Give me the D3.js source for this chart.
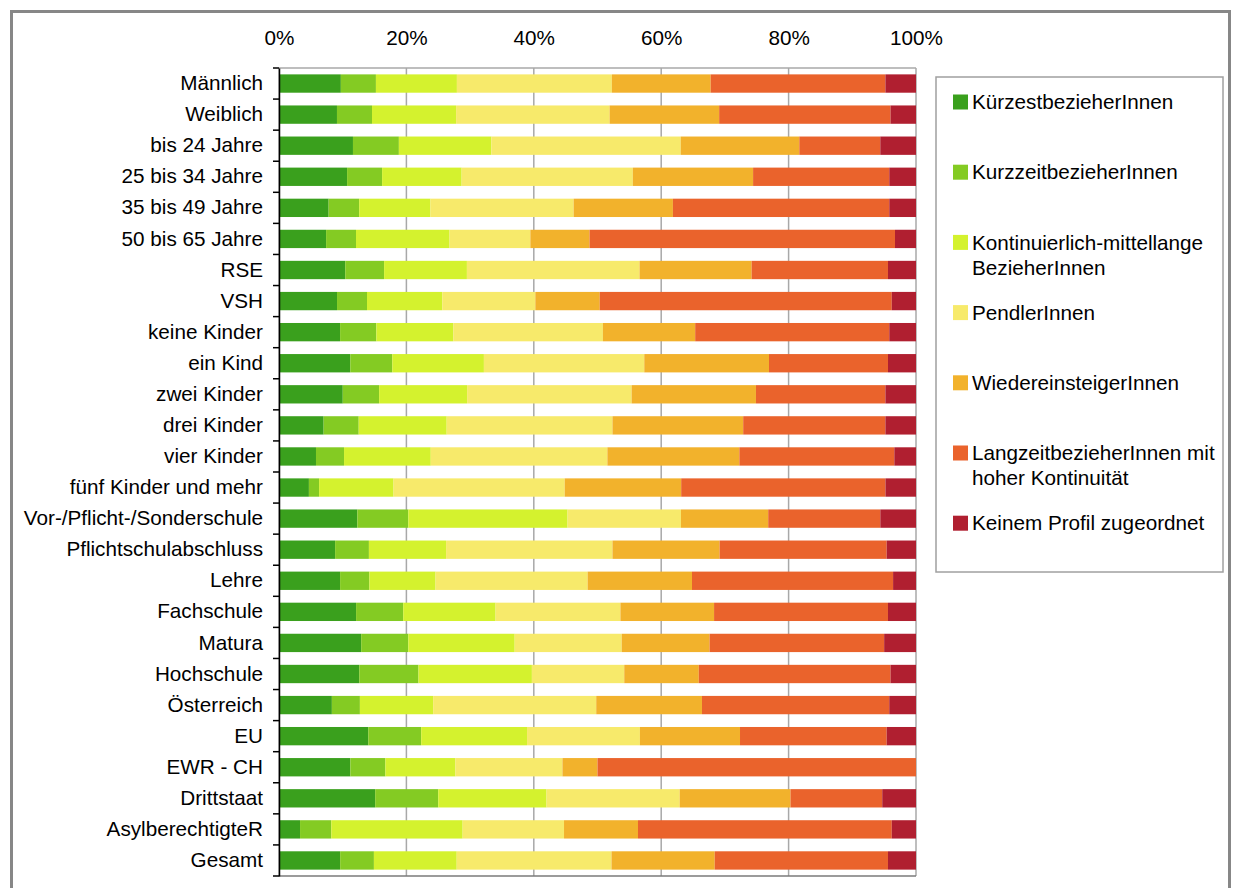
<!DOCTYPE html>
<html>
<head>
<meta charset="utf-8">
<script src="https://cdn.jsdelivr.net/npm/d3@7"></script>
<style>
  body { margin: 0; background: #fff; }
  svg { font-family: "Liberation Sans", Arial, sans-serif; }
</style>
</head>
<body>
<div id="chart"></div>
<script>
// categories (top to bottom)
const categories = [
  "Männlich", "Weiblich", "bis 24 Jahre", "25 bis 34 Jahre", "35 bis 49 Jahre",
  "50 bis 65 Jahre", "RSE", "VSH", "keine Kinder", "ein Kind", "zwei Kinder",
  "drei Kinder", "vier Kinder", "fünf Kinder und mehr", "Vor-/Pflicht-/Sonderschule",
  "Pflichtschulabschluss", "Lehre", "Fachschule", "Matura", "Hochschule",
  "Österreich", "EU", "EWR - CH", "Drittstaat", "AsylberechtigteR", "Gesamt"
];

const seriesNames = [
  "KürzestbezieherInnen",
  "KurzzeitbezieherInnen",
  "Kontinuierlich-mittellange BezieherInnen",
  "PendlerInnen",
  "WiedereinsteigerInnen",
  "LangzeitbezieherInnen mit hoher Kontinuität",
  "Keinem Profil zugeordnet"
];

const seriesColors = ["#3aa01d", "#84cb23", "#d4f22e", "#f7ea6b", "#f2b22c", "#ea632c", "#b01f30"];

// shares in percent, one array per series, in category order
const kuerzest = [9.7, 9.1, 11.6, 10.7, 7.8, 7.4, 10.4, 9.1, 9.6, 11.2, 10.0, 7.0, 5.8, 4.7, 12.3, 8.8, 9.6, 12.1, 12.9, 12.6, 8.3, 14.0, 11.2, 15.1, 3.3, 9.6];
const kurzzeit = [5.5, 5.5, 7.2, 5.5, 4.8, 4.7, 6.1, 4.7, 5.7, 6.6, 5.7, 5.5, 4.4, 1.6, 8.0, 5.3, 4.6, 7.4, 7.4, 9.3, 4.4, 8.3, 5.5, 9.9, 4.9, 5.3];
const mittellang = [12.7, 13.2, 14.5, 12.5, 11.2, 14.7, 13.0, 11.8, 12.1, 14.4, 13.8, 13.8, 13.6, 11.7, 25.0, 12.1, 10.4, 14.5, 16.7, 17.8, 11.5, 16.6, 11.0, 17.0, 20.6, 13.0];
const pendler = [24.3, 24.1, 29.7, 26.9, 22.5, 12.7, 27.1, 14.6, 23.5, 25.2, 25.8, 26.0, 27.7, 26.9, 17.8, 26.1, 23.9, 19.6, 16.8, 14.5, 25.6, 17.7, 16.8, 20.9, 15.9, 24.3];
const wiedereinsteiger = [15.5, 17.2, 18.6, 18.9, 15.6, 9.3, 17.6, 10.1, 14.5, 19.6, 19.5, 20.5, 20.7, 18.3, 13.7, 16.8, 16.4, 14.7, 13.8, 11.7, 16.6, 15.7, 5.5, 17.4, 11.6, 16.2];
const langzeit = [27.4, 26.9, 12.7, 21.4, 34.0, 48.0, 21.4, 45.8, 30.5, 18.7, 20.3, 22.3, 24.3, 32.1, 17.6, 26.2, 31.6, 27.3, 27.4, 30.1, 29.4, 23.0, 50.0, 14.4, 39.8, 27.2];
const keinProfil = [4.8, 4.0, 5.6, 4.2, 4.2, 3.3, 4.4, 3.8, 4.2, 4.4, 4.8, 4.8, 3.4, 4.8, 5.6, 4.6, 3.6, 4.4, 5.0, 4.0, 4.2, 4.6, 0.0, 5.3, 3.8, 4.4];

const tickValues = [0, 0.2, 0.4, 0.6, 0.8, 1.0];

const seriesValues = [kuerzest, kurzzeit, mittellang, pendler, wiedereinsteiger, langzeit, keinProfil];

// table built from the arrays, normalised per row to 100%
const table = categories.map((c, i) => {
  const row = { cat: c };
  const tot = d3.sum(seriesValues, s => s[i]);
  seriesNames.forEach((n, j) => { row[n] = seriesValues[j][i] / tot; });
  return row;
});

const W = 1233, H = 888;
const FS = 20.7;
const svg = d3.select("#chart").append("svg").attr("width", W).attr("height", H);

// outer frame
svg.append("rect")
  .attr("x", 11.5).attr("y", 11.5).attr("width", 1218).attr("height", 900)
  .attr("fill", "none").attr("stroke", "#878787").attr("stroke-width", 3);

const plotL = 279, plotR = 916, plotT = 68, plotB = 876;

const x = d3.scaleLinear().domain([0, 1]).range([plotL, plotR]);
const y = d3.scaleBand().domain(categories).range([plotT, plotB]).paddingInner(0.41).paddingOuter(0.205);

// vertical gridlines
svg.append("g").selectAll("line").data(tickValues).join("line")
  .attr("x1", d => x(d)).attr("x2", d => x(d))
  .attr("y1", plotT).attr("y2", plotB)
  .attr("stroke", "#a8a8a8").attr("stroke-width", 1.5);

// top border of plot
svg.append("line").attr("x1", plotL).attr("x2", plotR).attr("y1", plotT).attr("y2", plotT)
  .attr("stroke", "#a8a8a8").attr("stroke-width", 1.5);

// stacked bars
const stack = d3.stack().keys(seriesNames);
const layers = stack(table);

svg.append("g").selectAll("g").data(layers).join("g")
  .attr("fill", (d, i) => seriesColors[i])
  .selectAll("rect").data(d => d).join("rect")
  .attr("x", d => x(d[0]))
  .attr("width", d => Math.max(0, x(d[1]) - x(d[0])))
  .attr("y", d => y(d.data.cat))
  .attr("height", y.bandwidth());

// top axis with percent labels
const xAxis = svg.append("g")
  .attr("transform", `translate(0,${plotT})`)
  .call(d3.axisTop(x).tickValues(tickValues).tickFormat(d3.format(".0%")).tickSize(0).tickPadding(23));
xAxis.select(".domain").remove();
xAxis.selectAll("text").attr("font-size", FS).attr("fill", "#000")
  .attr("font-family", "Liberation Sans, Arial, sans-serif");

// bottom line
svg.append("line").attr("x1", plotL).attr("x2", plotR).attr("y1", plotB).attr("y2", plotB)
  .attr("stroke", "#7a7a7a").attr("stroke-width", 1.5);

// left category axis
const yAxis = svg.append("g").attr("transform", `translate(${plotL},0)`)
  .call(d3.axisLeft(y).tickSize(0).tickPadding(16));
yAxis.select(".domain").attr("stroke", "#000").attr("stroke-width", 1.5);
yAxis.selectAll("text").attr("font-size", FS).attr("fill", "#000")
  .attr("font-family", "Liberation Sans, Arial, sans-serif");

// tick marks at band boundaries
const bounds = d3.range(categories.length + 1).map(i => plotT + i * (plotB - plotT) / categories.length);
svg.append("g").selectAll("line").data(bounds).join("line")
  .attr("x1", plotL - 6).attr("x2", plotL)
  .attr("y1", d => d).attr("y2", d => d)
  .attr("stroke", "#000").attr("stroke-width", 1.5);

// legend
const lg = svg.append("g");
lg.append("rect").attr("x", 936).attr("y", 77).attr("width", 287).attr("height", 495)
  .attr("fill", "#fff").attr("stroke", "#a0a0a0").attr("stroke-width", 1.5);

const legendLines = [
  ["KürzestbezieherInnen"],
  ["KurzzeitbezieherInnen"],
  ["Kontinuierlich-mittellange", "BezieherInnen"],
  ["PendlerInnen"],
  ["WiedereinsteigerInnen"],
  ["LangzeitbezieherInnen mit", "hoher Kontinuität"],
  ["Keinem Profil zugeordnet"]
];

const item = lg.selectAll("g.item").data(seriesNames).join("g")
  .attr("class", "item")
  .attr("transform", (d, i) => `translate(953,${102 + i * 70.2})`);
item.append("rect").attr("x", 0).attr("y", -7.5).attr("width", 15).attr("height", 15)
  .attr("fill", (d, i) => seriesColors[i]);
item.append("text").attr("x", 19).attr("font-size", FS).attr("fill", "#000")
  .selectAll("tspan").data((d, i) => legendLines[i]).join("tspan")
  .attr("x", 19).attr("y", (d, j) => j * 25).attr("dy", "0.35em")
  .text(d => d);
</script>
</body>
</html>
